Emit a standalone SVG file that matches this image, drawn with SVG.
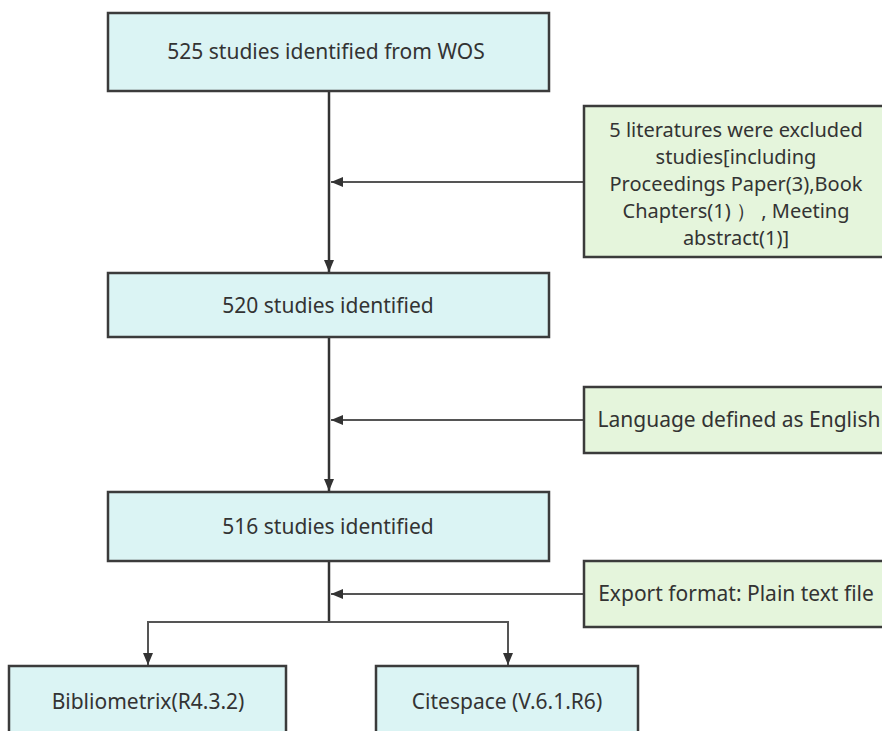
<svg xmlns="http://www.w3.org/2000/svg" width="882" height="731" viewBox="0 0 882 731">
<defs>
<style>
.blue{fill:#dbf4f4;stroke:#3b3b3b;stroke-width:2.5}
.green{fill:#e5f5dc;stroke:#3b3b3b;stroke-width:2.5}
.t{font-family:"Noto Sans","Open Sans","DejaVu Sans",sans-serif;font-size:21px;fill:#333;text-anchor:middle}
.s{font-size:20px}
.main{stroke:#333;stroke-width:2.5;fill:none}
.side{stroke:#555;stroke-width:2;fill:none}
</style>
<marker id="ah" viewBox="0 0 12 10" refX="12" refY="5" markerWidth="12" markerHeight="10" markerUnits="userSpaceOnUse" orient="auto">
<path d="M0,0 L12,5 L0,10 Z" fill="#333"/>
</marker>
</defs>
<rect width="882" height="731" fill="#fff"/>
<g id="connectors">
<line class="main" x1="329" y1="91" x2="329" y2="272" marker-end="url(#ah)"/>
<line class="side" x1="583" y1="182" x2="331" y2="182" marker-end="url(#ah)"/>
<line class="main" x1="329" y1="337" x2="329" y2="491" marker-end="url(#ah)"/>
<line class="side" x1="583" y1="420" x2="331" y2="420" marker-end="url(#ah)"/>
<line class="main" x1="329" y1="561" x2="329" y2="622"/>
<line class="side" x1="583" y1="594" x2="331" y2="594" marker-end="url(#ah)"/>
<polyline class="side" points="148,665 148,622 508,622 508,665" marker-end="url(#ah)"/>
<line class="side" x1="148" y1="622" x2="148" y2="665" marker-end="url(#ah)"/>
</g>
<g id="n1"><rect class="blue" x="108" y="13" width="441" height="78"/><text class="t" x="326" y="59">525 studies identified from WOS</text></g>
<g id="n2"><rect class="green" x="584" y="106" width="310" height="151"/>
<text class="t s" x="736" y="137">5 literatures were excluded</text>
<text class="t s" x="736" y="164">studies[including</text>
<text class="t s" x="736" y="191">Proceedings Paper(3),Book</text>
<text class="t s" x="736" y="218">Chapters(1) ） , Meeting</text>
<text class="t s" x="736" y="245">abstract(1)]</text></g>
<g id="n3"><rect class="blue" x="108" y="273" width="441" height="64"/><text class="t" x="328" y="313">520 studies identified</text></g>
<g id="n4"><rect class="green" x="584" y="387" width="310" height="66"/><text class="t" x="739" y="427">Language defined as English</text></g>
<g id="n5"><rect class="blue" x="108" y="492" width="441" height="69"/><text class="t" x="328" y="534">516 studies identified</text></g>
<g id="n6"><rect class="green" x="584" y="561" width="310" height="66"/><text class="t" x="736" y="601">Export format: Plain text file</text></g>
<g id="n7"><rect class="blue" x="9" y="666" width="277" height="80"/><text class="t" x="148" y="709">Bibliometrix(R4.3.2)</text></g>
<g id="n8"><rect class="blue" x="376" y="666" width="262" height="80"/><text class="t" x="507" y="709">Citespace (V.6.1.R6)</text></g>
</svg>
